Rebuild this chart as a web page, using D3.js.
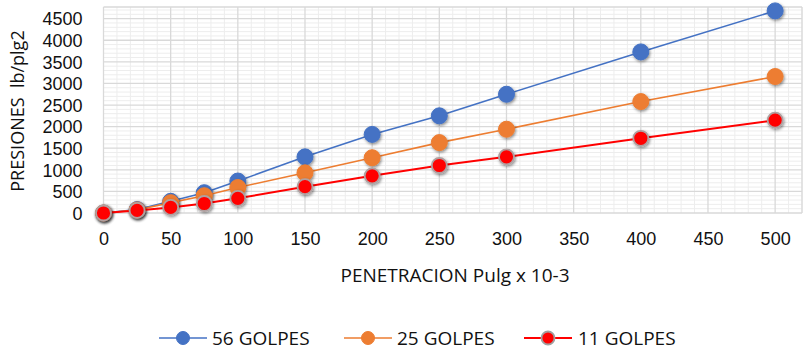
<!DOCTYPE html>
<html><head><meta charset="utf-8">
<script src="https://cdn.jsdelivr.net/npm/d3@7/dist/d3.min.js"></script>
<style>html,body{margin:0;padding:0;background:#fff;}svg{display:block;} text{white-space:pre;}</style>
</head><body><svg id="c" width="803" height="353"></svg>
<script>
const penetration = [0, 25, 50, 75, 100, 150, 200, 250, 300, 400, 500];
const golpes56 = [0, 80, 270, 470, 740, 1300, 1820, 2250, 2750, 3730, 4680];
const golpes25 = [0, 70, 240, 400, 590, 930, 1280, 1630, 1940, 2580, 3160];
const golpes11 = [0, 60, 130, 220, 340, 610, 860, 1100, 1300, 1730, 2150];
const seriesNames = ["56 GOLPES", "25 GOLPES", "11 GOLPES"];
const xTicks = [0, 50, 100, 150, 200, 250, 300, 350, 400, 450, 500];
const yTicks = [0, 500, 1000, 1500, 2000, 2500, 3000, 3500, 4000, 4500];
const xTitle = "PENETRACION Pulg x 10-3";
const yTitle = "PRESIONES  lb/plg2";

const colors = ["#4472C4", "#ED7D31", "#FF0000"];
const FONT = "'Open Sans', sans-serif";
const TICKFONT = "'Liberation Sans', Arial, sans-serif";
const svg = d3.select("#c");

const x = d3.scaleLinear().domain([0, 520]).range([103.5, 802]);
const y = d3.scaleLinear().domain([0, 4770]).range([213, 7]);

const defs = svg.append("defs");
const f = defs.append("filter").attr("id", "sh").attr("x", "-50%").attr("y", "-50%").attr("width", "200%").attr("height", "200%");
f.append("feDropShadow").attr("dx", 1).attr("dy", 1.5).attr("stdDeviation", 1.6).attr("flood-color", "#000").attr("flood-opacity", 0.45);

const g = svg.append("g");
// minor grid
const xMinor = d3.range(0, 521, 10).filter(v => v % 50 !== 0);
const yMinor = d3.range(0, 4771, 100).filter(v => v % 500 !== 0);
g.selectAll(".xm").data(xMinor).join("line")
  .attr("x1", d => x(d)).attr("x2", d => x(d)).attr("y1", y(4770)).attr("y2", y(0))
  .attr("stroke", "#EDEDED").attr("stroke-width", 1);
g.selectAll(".ym").data(yMinor).join("line")
  .attr("y1", d => y(d)).attr("y2", d => y(d)).attr("x1", x(0)).attr("x2", x(520))
  .attr("stroke", "#EDEDED").attr("stroke-width", 1);
// major grid
g.selectAll(".xM").data(xTicks.concat([520])).join("line")
  .attr("x1", d => x(d)).attr("x2", d => x(d)).attr("y1", y(4770)).attr("y2", y(0))
  .attr("stroke", "#D9D9D9").attr("stroke-width", 1.3);
g.selectAll(".yM").data(yTicks.concat([4770])).join("line")
  .attr("y1", d => y(d)).attr("y2", d => y(d)).attr("x1", x(0)).attr("x2", x(520))
  .attr("stroke", "#D9D9D9").attr("stroke-width", 1.3);

// axes labels via d3 axes
const yAxis = svg.append("g").attr("transform", `translate(${x(0) - 21},0)`)
  .call(d3.axisLeft(y).tickValues(yTicks).tickFormat(d3.format("d")).tickSize(0).tickPadding(0));
yAxis.select(".domain").remove();
yAxis.selectAll("text").attr("font-family", TICKFONT).attr("font-size", 18).attr("fill", "#111").attr("dy", "0.35em");

const xAxis = svg.append("g").attr("transform", `translate(0,${y(0) + 19})`)
  .call(d3.axisBottom(x).tickValues(xTicks).tickFormat(d3.format("d")).tickSize(0).tickPadding(0));
xAxis.select(".domain").remove();
xAxis.selectAll("text").attr("font-family", TICKFONT).attr("font-size", 18).attr("fill", "#111").attr("dy", "0.7em");

svg.append("text").attr("x", 455).attr("y", 275).attr("dy", "0.35em").attr("text-anchor", "middle")
  .attr("font-family", FONT).attr("font-size", 19).attr("fill", "#111").text(xTitle);
svg.append("text").attr("transform", "translate(18,111) rotate(-90)").attr("dy", "0.35em").attr("text-anchor", "middle")
  .attr("font-family", FONT).attr("font-size", 18).attr("fill", "#111").text(yTitle);

// series
const data = [golpes56, golpes25, golpes11];
const line = d3.line().x((d, i) => x(penetration[i])).y(d => y(d));
data.forEach((vals, si) => {
  const sg = svg.append("g");
  sg.append("path").datum(vals).attr("d", line).attr("fill", "none")
    .attr("stroke", colors[si]).attr("stroke-width", si === 2 ? 2 : 1.6);
  sg.selectAll("circle").data(vals).join("circle")
    .attr("cx", (d, i) => x(penetration[i])).attr("cy", d => y(d)).attr("r", si === 2 ? 7.5 : 8)
    .attr("fill", colors[si])
    .attr("stroke", si === 2 ? "#B0A0A0" : colors[si]).attr("stroke-width", si === 2 ? 1.8 : 1)
    .attr("filter", "url(#sh)");
});

// legend
const legendItems = [{lx: 159, tx: 212}, {lx: 344, tx: 397}, {lx: 524, tx: 578}];
legendItems.forEach((it, i) => {
  const lg = svg.append("g");
  lg.append("line").attr("x1", it.lx).attr("x2", it.lx + 48).attr("y1", 338).attr("y2", 338)
    .attr("stroke", colors[i]).attr("stroke-width", i === 2 ? 2 : 1.6);
  lg.append("circle").attr("cx", it.lx + 24).attr("cy", 338).attr("r", 6.5).attr("fill", colors[i])
    .attr("stroke", i === 2 ? "#A0A0A0" : colors[i]).attr("stroke-width", i === 2 ? 1.8 : 1);
  lg.append("text").attr("x", it.tx).attr("y", 338).attr("dy", "0.35em")
    .attr("font-family", FONT).attr("font-size", 19).attr("fill", "#111").text(seriesNames[i]);
});
</script></body></html>
